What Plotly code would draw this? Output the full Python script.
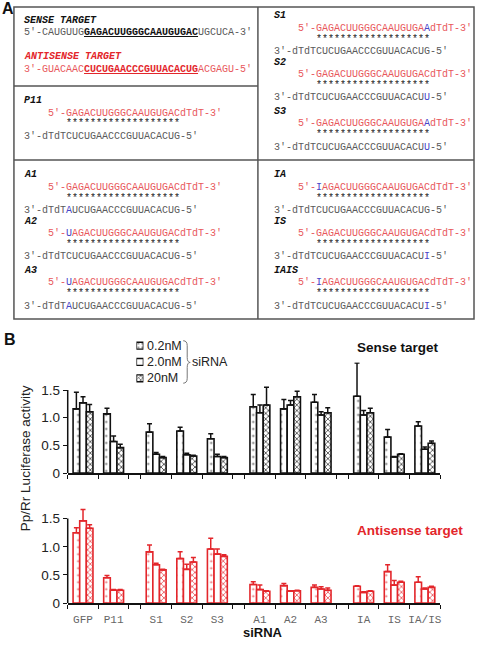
import plotly.graph_objects as go

W, H = 477, 646

# ---------------- data ----------------
categories = ["GFP", "P11", "S1", "S2", "S3", "A1", "A2", "A3", "IA", "IS", "IA/IS"]
cluster_sizes = [2, 3, 3, 3]
concentrations = ["0.2nM", "2.0nM", "20nM"]

sense_low = [1.16, 1.07, 0.74, 0.76, 0.62, 1.20, 1.16, 1.28, 1.39, 0.65, 0.85]
sense_low_err = [0.30, 0.10, 0.15, 0.07, 0.09, 0.22, 0.17, 0.14, 0.60, 0.14, 0.08]
sense_mid = [1.27, 0.57, 0.34, 0.33, 0.30, 1.09, 1.23, 1.05, 1.05, 0.29, 0.43]
sense_mid_err = [0.11, 0.10, 0.03, 0.03, 0.04, 0.14, 0.08, 0.06, 0.08, 0.01, 0.04]
sense_high = [1.11, 0.46, 0.28, 0.31, 0.28, 1.23, 1.38, 1.09, 1.09, 0.34, 0.54]
sense_high_err = [0.13, 0.06, 0.02, 0.01, 0.02, 0.32, 0.10, 0.09, 0.08, 0.01, 0.04]

anti_low = [1.25, 0.45, 0.91, 0.79, 0.96, 0.33, 0.31, 0.28, 0.30, 0.56, 0.37]
anti_low_err = [0.09, 0.04, 0.12, 0.12, 0.19, 0.05, 0.04, 0.04, 0.01, 0.12, 0.10]
anti_mid = [1.46, 0.23, 0.68, 0.60, 0.87, 0.24, 0.21, 0.25, 0.19, 0.32, 0.25]
anti_mid_err = [0.20, 0.01, 0.03, 0.09, 0.09, 0.08, 0.01, 0.04, 0.01, 0.08, 0.02]
anti_high = [1.33, 0.23, 0.59, 0.73, 0.83, 0.21, 0.22, 0.23, 0.21, 0.37, 0.28]
anti_high_err = [0.06, 0.01, 0.01, 0.08, 0.03, 0.01, 0.01, 0.04, 0.01, 0.02, 0.02]

y_tickvals = [0, 0.5, 1.0, 1.5]
y_ticktext = ["0", "0.5", "1.0", "1.5"]

# panel A sequences ( [X] marks a modified nucleotide )
sense_target = ["5'-CAUGUUG", "GAGACUUGGGCAAUGUGAC", "UGCUCA-3'"]
antisense_target = ["3'-GUACAAC", "CUCUGAACCCGUUACACUG", "ACGAGU-5'"]
sirna_names = ["P11", "S1", "S2", "S3", "A1", "A2", "A3", "IA", "IS", "IAIS"]
sirna_top = [
    "5'-GAGACUUGGGCAAUGUGACdTdT-3'",
    "5'-GAGACUUGGGCAAUGUGA[A]dTdT-3'",
    "5'-GAGACUUGGGCAAUGUGACdTdT-3'",
    "5'-GAGACUUGGGCAAUGUGA[A]dTdT-3'",
    "5'-GAGACUUGGGCAAUGUGACdTdT-3'",
    "5'-[U]AGACUUGGGCAAUGUGACdTdT-3'",
    "5'-[U]AGACUUGGGCAAUGUGACdTdT-3'",
    "5'-[I]AGACUUGGGCAAUGUGACdTdT-3'",
    "5'-GAGACUUGGGCAAUGUGACdTdT-3'",
    "5'-[I]AGACUUGGGCAAUGUGACdTdT-3'",
]
sirna_bottom = [
    "3'-dTdTCUCUGAACCCGUUACACUG-5'",
    "3'-dTdTCUCUGAACCCGUUACACUG-5'",
    "3'-dTdTCUCUGAACCCGUUACACU[U]-5'",
    "3'-dTdTCUCUGAACCCGUUACACU[U]-5'",
    "3'-dTdT[A]UCUGAACCCGUUACACUG-5'",
    "3'-dTdTCUCUGAACCCGUUACACUG-5'",
    "3'-dTdT[A]UCUGAACCCGUUACACUG-5'",
    "3'-dTdTCUCUGAACCCGUUACACUG-5'",
    "3'-dTdTCUCUGAACCCGUUACACU[I]-5'",
    "3'-dTdTCUCUGAACCCGUUACACU[I]-5'",
]
pairing = "*" * 19

# ---------------- helpers ----------------
def px(x):
    return x / W


def py(y):
    return 1 - y / H


RED = "#e3262b"
SALMON = "#e8585c"
BLUE = "#4646c8"
GRAY = "#5a5a5a"
MONO = "Liberation Mono, Courier New, monospace"
SANS = "Liberation Sans, Arial, sans-serif"

annotations = []
shapes = []


def add_text(x, y, text, size=10, color="#222", family=MONO, xanchor="left", angle=0):
    annotations.append(dict(x=px(x), y=py(y), xref="paper", yref="paper", text=text,
                            showarrow=False, xanchor=xanchor, yanchor="middle",
                            textangle=angle, borderpad=0,
                            font=dict(size=size, color=color, family=family)))


def mark(seq, base_color):
    out = ""
    parts = seq.replace("]", "[").split("[")
    for i, p in enumerate(parts):
        if not p:
            continue
        if i % 2 == 1:
            out += f'<span style="color:{BLUE}">{p}</span>'
        else:
            out += f'<span style="color:{base_color}">{p}</span>'
    return out

# ---------------- panel A ----------------
def line(x0, y0, x1, y1, color="#555", width=1.5):
    shapes.append(dict(type="line", xref="paper", yref="paper", x0=px(x0), y0=py(y0),
                       x1=px(x1), y1=py(y1), line=dict(color=color, width=width)))

shapes.append(dict(type="rect", xref="paper", yref="paper", x0=px(14), y0=py(7), x1=px(476), y1=py(323),
                   line=dict(color="#555", width=1.5)))
line(259, 7, 259, 323)
line(14, 87, 259, 87)
line(14, 162, 476, 162)

add_text(1, 9, "<b>A</b>", size=16, family=SANS, color="#111")
add_text(3, 344, "<b>B</b>", size=16, family=SANS, color="#111")

CW = 6.0
add_text(23, 21, "<b><i>SENSE TARGET</i></b>", color="#111")
add_text(23, 33, f'<span style="color:{GRAY}">{sense_target[0]}</span>'
                 f'<b><u>{sense_target[1]}</u></b>'
                 f'<span style="color:{GRAY}">{sense_target[2]}</span>', color="#111")
add_text(23, 57, "<b><i>ANTISENSE TARGET</i></b>", color=RED)
add_text(23, 70, f'<span style="color:{SALMON}">{antisense_target[0]}</span>'
                 f'<b><u>{antisense_target[1]}</u></b>'
                 f'<span style="color:{SALMON}">{antisense_target[2]}</span>', color=RED)

block_pos = {"P11": (23, 102), "A1": (23, 177), "A2": (23, 224), "A3": (23, 274),
             "S1": (274, 16), "S2": (274, 63), "S3": (274, 113),
             "IA": (274, 177), "IS": (274, 224), "IAIS": (274, 274)}
for name, top, bot in zip(sirna_names, sirna_top, sirna_bottom):
    x0, y0 = block_pos[name]
    add_text(x0, y0, f"<b><i>{name}</i></b>", color="#111")
    add_text(x0 + 4 * CW, y0 + 12.5, mark(top, SALMON), color=SALMON)
    add_text(x0 + 7 * CW, y0 + 23.5, pairing, color="#222")
    add_text(x0, y0 + 36, mark(bot, GRAY), color=GRAY)

# ---------------- panel B ----------------
GAP = 0.39
centers, bounds = [], []
pos = 0.0
for ci, n in enumerate(cluster_sizes):
    if ci > 0:
        pos += GAP
    bounds.append(pos)
    for k in range(n):
        centers.append(pos + 0.5)
        pos += 1
        bounds.append(pos)
xmax = pos

patterns = [dict(shape=".", size=7, solidity=0.08),
            dict(shape="", size=6, solidity=0.2),
            dict(shape="x", size=4, solidity=0.3)]

fig = go.Figure()


def add_bars(vals, errs, xa, ya, color, light):
    for i, (v, e) in enumerate(zip(vals, errs)):
        pat = dict(patterns[i])
        pat.update(fgcolor=light if i == 0 else color, bgcolor="white", fillmode="replace")
        fig.add_trace(go.Bar(
            x=centers, y=v, xaxis=xa, yaxis=ya, name=concentrations[i],
            offsetgroup=str(i), showlegend=False,
            marker=dict(color="white", line=dict(color=color, width=1.6), pattern=pat),
            error_y=dict(type="data", symmetric=False, array=e, arrayminus=[0] * len(e),
                         color=color, thickness=1.5, width=2.5)))

add_bars([sense_low, sense_mid, sense_high], [sense_low_err, sense_mid_err, sense_high_err],
         "x", "y", "#111", "#666")
add_bars([anti_low, anti_mid, anti_high], [anti_low_err, anti_mid_err, anti_high_err],
         "x2", "y2", RED, "#e86a6e")

# legend swatches
fig.add_trace(go.Bar(
    y=[0, 1, 2], x=[1, 1, 1], orientation="h", width=0.42, xaxis="x3", yaxis="y3", showlegend=False,
    marker=dict(color="white", line=dict(color="#111", width=1.4),
                pattern=dict(shape=[p["shape"] for p in patterns], size=[4, 4, 3],
                             solidity=[0.12, 0.2, 0.3], fgcolor="#111", bgcolor="white",
                             fillmode="replace"))))

xdom = [px(68), px(442)]
ax_common = dict(showgrid=False, zeroline=False)
up_dom = [py(479), py(367)]
lo_dom = [py(610.7), py(508)]

fig.update_layout(
    width=W, height=H, autosize=False,
    margin=dict(l=0, r=0, t=0, b=0),
    paper_bgcolor="white", plot_bgcolor="rgba(0,0,0,0)",
    barmode="group", bargap=0.35, bargroupgap=0,
    xaxis=dict(domain=xdom, range=[0, xmax], anchor="y", showline=True, linecolor="#111", linewidth=1.5,
               tickmode="array", tickvals=bounds, ticks="outside", ticklen=4, tickwidth=1.3,
               tickcolor="#111", showticklabels=False, **ax_common),
    yaxis=dict(domain=up_dom, range=[0, 2.0], anchor="x", showline=False,
               tickmode="array", tickvals=y_tickvals, ticktext=y_ticktext, ticks="outside",
               ticklen=4, tickwidth=1.3, tickcolor="#111",
               tickfont=dict(family=SANS, size=13.5, color="#222"), **ax_common),
    xaxis2=dict(domain=xdom, range=[0, xmax], anchor="y2", showline=True, linecolor="#111", linewidth=1.5,
                tickmode="array", tickvals=centers, ticktext=categories, ticks="",
                ticklabelstandoff=5,
                tickfont=dict(family=MONO, size=11, color="#666"),
                minor=dict(tickvals=bounds, ticks="outside", ticklen=4, tickwidth=1.3, tickcolor="#111"),
                **ax_common),
    yaxis2=dict(domain=lo_dom, range=[0, 1.8], anchor="x2", showline=False,
                tickmode="array", tickvals=y_tickvals, ticktext=y_ticktext, ticks="outside",
                ticklen=4, tickwidth=1.3, tickcolor="#111",
                tickfont=dict(family=SANS, size=13.5, color="#222"), **ax_common),
    xaxis3=dict(domain=[px(137), px(144)], range=[0, 1], anchor="y3", visible=False, **ax_common),
    yaxis3=dict(domain=[py(391.25), py(341.75)], range=[2.5, -0.5], anchor="x3", visible=False, **ax_common),
)

# y axis lines limited to 0..1.5
for ya in ["y", "y2"]:
    shapes.append(dict(type="line", xref=("x" if ya == "y" else "x2") + " domain", yref=ya,
                       x0=0, x1=0, y0=0, y1=1.5, line=dict(color="#111", width=1.5)))

# legend text and bracket
for lab, yy in zip(concentrations, [350, 367, 383]):
    add_text(147, yy, lab, size=12.5, family=SANS, color="#222")
path = (f"M {px(184)} {py(345)} Q {px(188)} {py(345)} {px(188)} {py(350)} "
        f"L {px(188)} {py(362)} Q {px(188)} {py(367)} {px(191)} {py(367)} "
        f"Q {px(188)} {py(367)} {px(188)} {py(372)} L {px(188)} {py(383)} "
        f"Q {px(188)} {py(388)} {px(184)} {py(388)}")
shapes.append(dict(type="path", xref="paper", yref="paper", path=path, line=dict(color="#777", width=1)))
add_text(192, 367, "siRNA", size=12.5, family=SANS, color="#222")

add_text(400, 352, "<b>Sense target</b>", size=13.5, family=SANS, color="#111", xanchor="center")
add_text(412, 537, "<b>Antisense target</b>", size=13.5, family=SANS, color=RED, xanchor="center")
add_text(25, 464, "Pp/Rr Luciferase activity", size=13.5, family=SANS, color="#222", xanchor="center", angle=-90)
add_text(264, 640.5, "<b>siRNA</b>", size=13, family=SANS, color="#111", xanchor="center")

fig.update_layout(annotations=annotations, shapes=shapes)

fig.write_html("out.html", config={"displayModeBar": False},
               post_script="document.body.style.margin='0';document.body.style.overflow='hidden';")
